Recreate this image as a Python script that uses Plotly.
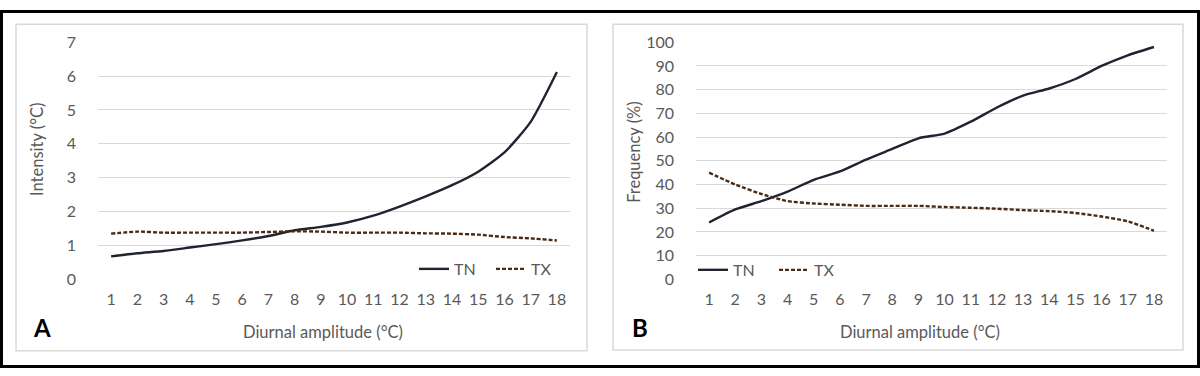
import plotly.graph_objects as go

# ---------------- data ----------------
categories = list(range(1, 19))
tick_labels = [str(c) for c in categories]

intensity_tn = [0.68, 0.77, 0.84, 0.94, 1.04, 1.15, 1.28, 1.45, 1.55, 1.68,
                1.88, 2.15, 2.45, 2.78, 3.18, 3.75, 4.65, 6.12]
intensity_tx = [1.35, 1.41, 1.38, 1.38, 1.38, 1.38, 1.40, 1.42, 1.41, 1.38,
                1.38, 1.38, 1.36, 1.35, 1.32, 1.25, 1.21, 1.15]

frequency_tn = [24.0, 29.5, 33.0, 37.0, 42.0, 45.5, 50.5, 55.0, 59.5, 61.5,
                66.5, 72.5, 77.5, 80.5, 84.5, 90.0, 94.5, 98.0]
frequency_tx = [45.0, 40.0, 36.0, 33.0, 32.0, 31.5, 31.0, 31.0, 31.0, 30.5,
                30.2, 29.8, 29.2, 28.8, 28.0, 26.5, 24.5, 20.5]

series_names = ["TN", "TX"]

# ---------------- styling ----------------
W, H = 1200, 376
FONT = "Lato"
TEXT = "#595959"
GRID = "#d9d9d9"
TN_COLOR = "#1e2530"
TX_COLOR = "#4a2a12"


def fx(p):
    return p / W


def fy(p):
    return 1 - p / H


fig = go.Figure()

line_tn = dict(color=TN_COLOR, width=2.4, shape="spline", smoothing=0.6)
line_tx = dict(color=TX_COLOR, width=2.4, shape="spline", smoothing=0.6, dash="4px,2px")

fig.add_trace(go.Scatter(x=categories, y=intensity_tn, name=series_names[0], mode="lines",
                         line=line_tn, xaxis="x", yaxis="y", legend="legend"))
fig.add_trace(go.Scatter(x=categories, y=intensity_tx, name=series_names[1], mode="lines",
                         line=line_tx, xaxis="x", yaxis="y", legend="legend"))
fig.add_trace(go.Scatter(x=categories, y=frequency_tn, name=series_names[0], mode="lines",
                         line=line_tn, xaxis="x2", yaxis="y2", legend="legend2"))
fig.add_trace(go.Scatter(x=categories, y=frequency_tx, name=series_names[1], mode="lines",
                         line=line_tx, xaxis="x2", yaxis="y2", legend="legend2"))

ydom = [fy(283.3), fy(33.5)]
tickfont = dict(family=FONT, size=16, color=TEXT)

xcommon = dict(range=[0.5, 18.5], tickmode="array", tickvals=categories, ticktext=tick_labels,
               showgrid=False, zeroline=False, showline=False, ticks="",
               tickfont=tickfont, ticklabelstandoff=8, fixedrange=True)
ycommon = dict(showgrid=True, gridcolor=GRID, gridwidth=1.4, zeroline=False, showline=False,
               ticks="", tickfont=tickfont, ticklabelstandoff=21, domain=ydom, fixedrange=True)

fig.update_layout(
    width=W, height=H, autosize=False,
    margin=dict(l=0, r=0, t=0, b=0),
    paper_bgcolor="white", plot_bgcolor="white",
    font=dict(family=FONT, color=TEXT),
    xaxis=dict(domain=[fx(98), fx(570)], anchor="y", **xcommon),
    yaxis=dict(anchor="x", range=[-0.01, 7.01], dtick=1, tick0=0, **ycommon),
    xaxis2=dict(domain=[fx(696), fx(1167)], anchor="y2", **xcommon),
    yaxis2=dict(anchor="x2", range=[-0.15, 100.15], dtick=10, tick0=0, **ycommon),
    legend=dict(orientation="h", x=fx(414), y=fy(272), xanchor="left", yanchor="middle",
                bgcolor="rgba(0,0,0,0)", font=dict(family=FONT, size=16, color=TEXT),
                entrywidth=32, entrywidthmode="pixels"),
    legend2=dict(orientation="h", x=fx(693), y=fy(273), xanchor="left", yanchor="middle",
                 bgcolor="rgba(0,0,0,0)", font=dict(family=FONT, size=16, color=TEXT),
                 entrywidth=36, entrywidthmode="pixels"),
    showlegend=True,
)

title_font = dict(family=FONT, size=16.5, color=TEXT)
annotations = [
    dict(text="Intensity (°C)", x=fx(37), y=fy(147), textangle=-90, font=title_font),
    dict(text="Frequency (%)", x=fx(634), y=fy(149), textangle=-90, font=title_font),
    dict(text="Diurnal amplitude (°C)", x=fx(323), y=fy(338), font=title_font),
    dict(text="Diurnal amplitude (°C)", x=fx(920), y=fy(338), font=title_font),
    dict(text="<b>A</b>", x=fx(42), y=fy(333), font=dict(family=FONT, size=24, color="black")),
    dict(text="<b>B</b>", x=fx(640), y=fy(333), font=dict(family=FONT, size=24, color="black")),
]
for a in annotations:
    a.update(xref="paper", yref="paper", showarrow=False, xanchor="center", yanchor="middle")
fig.update_layout(annotations=annotations)

shapes = [
    dict(type="rect", x0=fx(1.5), x1=fx(1198.5), y0=fy(374.5), y1=fy(1.5),
         line=dict(color="black", width=3)),
    dict(type="rect", x0=fx(16), x1=fx(587), y0=fy(358), y1=fy(15),
         line=dict(color=GRID, width=1.5)),
    dict(type="rect", x0=fx(613), x1=fx(1183), y0=fy(357), y1=fy(15),
         line=dict(color=GRID, width=1.5)),
]
for s in shapes:
    s.update(xref="paper", yref="paper", layer="below")
fig.update_layout(shapes=shapes)

# remove the browser's default 8px body margin so the figure sits at the window's corner
reset_page = (
    "document.documentElement.style.margin='0';document.documentElement.style.padding='0';"
    "document.body.style.margin='0';document.body.style.padding='0';"
    "document.body.style.overflow='hidden';window.scrollTo(0,0);"
)
fig.write_html("out.html", config={"displayModeBar": False}, post_script=reset_page)
